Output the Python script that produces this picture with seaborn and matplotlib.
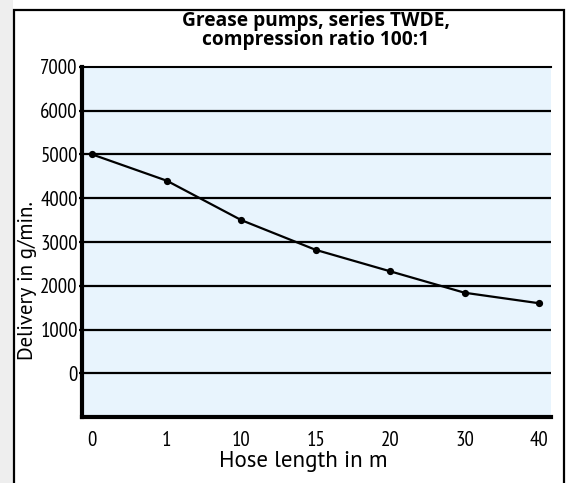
import matplotlib
matplotlib.use("Agg")
import matplotlib.pyplot as plt
import seaborn as sns
import pandas as pd
from matplotlib.patches import Rectangle

hose_length = ["0", "1", "10", "15", "20", "30", "40"]
delivery = [5000, 4400, 3500, 2820, 2330, 1840, 1600]
y_ticks = [0, 1000, 2000, 3000, 4000, 5000, 6000, 7000]
title = "Grease pumps, series TWDE,\ncompression ratio 100:1"
x_label = "Hose length in m"
y_label = "Delivery in g/min."

sns.set_style("white")
plt.rcParams["font.family"] = ["PT Sans", "Open Sans", "DejaVu Sans"]
plt.rcParams["text.color"] = "black"
plt.rcParams["axes.labelcolor"] = "black"
plt.rcParams["xtick.color"] = "black"
plt.rcParams["ytick.color"] = "black"
narrow = ["PT Sans Narrow", "Fira Sans Condensed", "DejaVu Sans"]

df = pd.DataFrame({"hose": hose_length, "delivery": delivery})

W, H = 570, 483
fig = plt.figure(figsize=(W / 100, H / 100), dpi=100)
fig.patch.set_facecolor("white")

fig.add_artist(Rectangle((0, 0), 13 / W, 1, transform=fig.transFigure,
                         facecolor="#eeeeee", edgecolor="none", zorder=0))
fig.add_artist(Rectangle((14 / W, -0.05), (564 - 14) / W, (1.05 - 10 / H),
                         transform=fig.transFigure, facecolor="white",
                         edgecolor="black", linewidth=1.6, zorder=0))

ax = fig.add_axes([82 / W, 1 - 417 / H, (551 - 82) / W, (417 - 67) / H])
ax.set_facecolor("#E8F4FD")
ax.set_zorder(1)

for v in y_ticks[:-1]:
    ax.axhline(v, color="black", linewidth=1.6, zorder=1)

sns.pointplot(data=df, x="hose", y="delivery", color="black",
              markers="o", markersize=4, linewidth=1.6, ax=ax, zorder=3)

ax.set_xlim(-0.14, 6.16)
ax.set_ylim(-1000, 7000)
ax.set_yticks(y_ticks)
ax.set_yticklabels([str(v) for v in y_ticks], family=narrow, fontsize=15, color="black")
ax.set_xticks(range(len(hose_length)))
ax.set_xticklabels(hose_length, family=narrow, fontsize=15, color="black")
ax.tick_params(axis="y", length=2.5, width=1.6, color="black", pad=0.5, left=True)
ax.tick_params(axis="x", length=0, pad=10)

for s in ["left", "bottom"]:
    ax.spines[s].set_linewidth(3)
    ax.spines[s].set_color("black")
ax.spines["top"].set_linewidth(1.5)
ax.spines["top"].set_color("black")
ax.spines["right"].set_visible(False)

ax.set_xlabel(x_label, fontsize=16.6, labelpad=6, color="black")
ax.xaxis.set_label_coords((303 - 82) / 469, -0.098)
ax.set_ylabel(y_label, fontsize=15, labelpad=0, color="black")
ax.yaxis.set_label_coords(-0.096, 0.39)

fig.text(316 / W, 1 - 11 / H, title, ha="center", va="top", fontsize=13.8,
         fontweight="bold", linespacing=0.95, color="black",
         family=["Open Sans", "DejaVu Sans"])

fig.savefig("out.png", dpi=100)
